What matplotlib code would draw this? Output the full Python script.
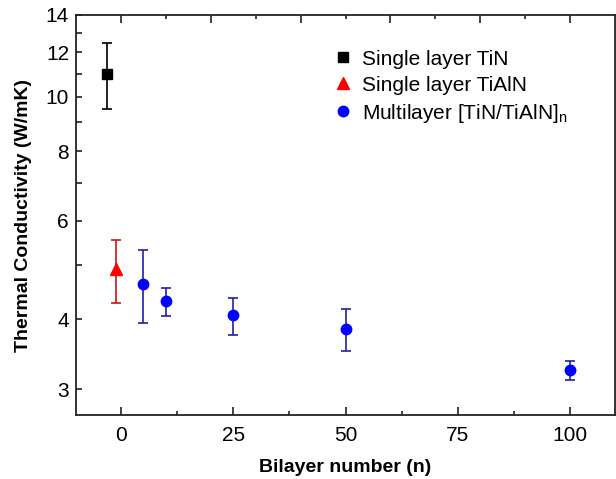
import matplotlib
matplotlib.use('Agg')
import matplotlib.pyplot as plt
from matplotlib.ticker import FixedLocator, MultipleLocator, NullFormatter
from matplotlib.lines import Line2D
import numpy as np

plt.rcParams['font.family'] = ['Liberation Sans', 'DejaVu Sans']
plt.rcParams['mathtext.fontset'] = 'custom'
plt.rcParams['mathtext.rm'] = 'Liberation Sans'

# single layers (plotted slightly left of 0)
tin_x = [-3]
tin_y = [11.0]
tin_lo = [9.5]
tin_hi = [12.5]

tialn_x = [-1]
tialn_y = [4.93]
tialn_lo = [4.28]
tialn_hi = [5.55]

# multilayer [TiN/TiAlN]n
multi_n = [5, 10, 25, 50, 100]
multi_y = [4.63, 4.32, 4.08, 3.85, 3.25]
multi_lo = [3.95, 4.06, 3.76, 3.52, 3.12]
multi_hi = [5.33, 4.56, 4.37, 4.18, 3.37]

ytick_vals = [3, 4, 6, 8, 10, 12, 14]
yminor_vals = [5, 7, 9, 11, 13]
# top frame ticks (unlabelled)
top_major = [0, 20, 40, 60, 80, 100]
top_minor = [10, 30, 50, 70, 90]

labels = ['Single layer TiN', 'Single layer TiAlN',
          'Multilayer [TiN/TiAlN]$_\\mathregular{n}$']


def err(y, lo, hi):
    y = np.array(y)
    return [y - np.array(lo), np.array(hi) - y]


fig = plt.figure(figsize=(6.16, 4.79), dpi=100)
ax = fig.add_axes([76/616, 1-415/479, 539/616, 400/479])

ax.errorbar(tin_x, tin_y, yerr=err(tin_y, tin_lo, tin_hi), fmt='s', color='black',
            ms=6.5, elinewidth=1.2, capsize=3.6, capthick=1.2)
ax.errorbar(tialn_x, tialn_y, yerr=err(tialn_y, tialn_lo, tialn_hi), fmt='^', color='#ff0000',
            ecolor='#d01010', ms=8, elinewidth=1.2, capsize=3.6, capthick=1.2)
ax.errorbar(multi_n, multi_y, yerr=err(multi_y, multi_lo, multi_hi), fmt='o', color='#0000ff',
            ecolor='#2020a0', ms=7.5, elinewidth=1.2, capsize=3.6, capthick=1.2)

ax.set_yscale('log')
ax.set_ylim(2.7, 14)
ax.set_xlim(-10, 110)

ax.yaxis.set_major_locator(FixedLocator(ytick_vals))
ax.yaxis.set_minor_locator(FixedLocator(yminor_vals))
ax.set_yticklabels([str(v) for v in ytick_vals])
ax.yaxis.set_minor_formatter(NullFormatter())
ax.xaxis.set_major_locator(MultipleLocator(25))
ax.xaxis.set_minor_locator(MultipleLocator(12.5))

ax.tick_params(which='both', direction='in', labelsize=15, width=1.2, color='#222222')
ax.tick_params(axis='x', which='major', length=5.5, pad=8)
ax.tick_params(axis='x', which='minor', length=3)
ax.tick_params(axis='y', which='both', length=4, pad=5)

# ticks hanging from the top frame
xt = ax.get_xaxis_transform()
ax.plot(top_major, [1] * len(top_major), transform=xt, ls='none', marker=3,
        ms=5.5, mew=1.2, color='#222222', clip_on=False)
ax.plot(top_minor, [1] * len(top_minor), transform=xt, ls='none', marker=3,
        ms=3, mew=1.2, color='#222222', clip_on=False)

for s in ax.spines.values():
    s.set_linewidth(1.3)
    s.set_color('#222222')

ax.set_xlabel('Bilayer number (n)', fontsize=14, fontweight='bold', labelpad=10)
ax.set_ylabel('Thermal Conductivity (W/mK)', fontsize=14, fontweight='bold', labelpad=10)

handles = [Line2D([], [], ls='none', marker='s', color='black', ms=6.5),
           Line2D([], [], ls='none', marker='^', color='#ff0000', ms=8),
           Line2D([], [], ls='none', marker='o', color='#0000ff', ms=7.5)]
ax.legend(handles, labels, loc='upper left', bbox_to_anchor=(0.445, 0.95), frameon=False,
          fontsize=15, handletextpad=0.3, labelspacing=0.34, handlelength=1.2, borderpad=0.2)

fig.savefig('out.png', dpi=100)
